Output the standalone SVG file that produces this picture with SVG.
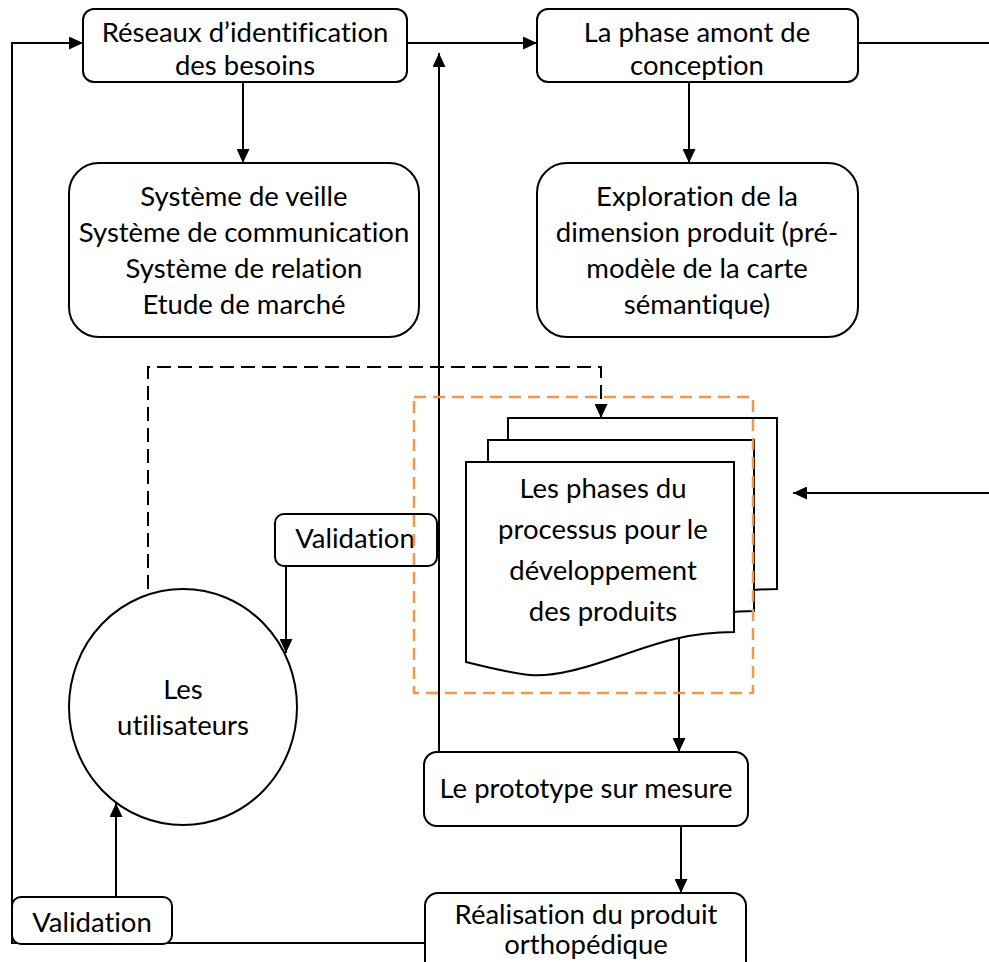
<svg xmlns="http://www.w3.org/2000/svg" width="989" height="962" viewBox="0 0 989 962">
<style>
.box{fill:#fff;stroke:#000;stroke-width:2}
.ln{fill:none;stroke:#000;stroke-width:2}
.dash{fill:none;stroke:#000;stroke-width:2;stroke-dasharray:14 7}
.orange{fill:none;stroke:#F79646;stroke-width:2.5;stroke-dasharray:12 7}
text{font-family:Lato,"Open Sans",sans-serif;font-size:27.5px;fill:#000;text-anchor:middle;font-variant-ligatures:none}
</style>
<defs>
<marker id="ah" viewBox="0 0 14 13" refX="14" refY="6.5" markerWidth="14" markerHeight="13" markerUnits="userSpaceOnUse" orient="auto">
<path d="M0,0 L14,6.5 L0,13 Z" fill="#000"/>
</marker>
</defs>
<rect width="989" height="962" fill="#fff"/>
<g id="connectors">
<path class="ln" d="M425,943 H12 V43 H83" marker-end="url(#ah)"/>
<path class="ln" d="M407,43 H537" marker-end="url(#ah)"/>
<path class="ln" d="M858,43 H989"/>
<path class="ln" d="M989,493 H793" marker-end="url(#ah)"/>
<path class="ln" d="M243,82 V163" marker-end="url(#ah)"/>
<path class="ln" d="M689,82 V163" marker-end="url(#ah)"/>
<path class="ln" d="M439,752 V53" marker-end="url(#ah)"/>
<path class="dash" d="M148,589 V367 H601 V418" marker-end="url(#ah)"/>
<path class="ln" d="M286,566 V653" marker-end="url(#ah)"/>
<path class="ln" d="M116,897 V803" marker-end="url(#ah)"/>
<path class="ln" d="M679,638 V752" marker-end="url(#ah)"/>
<path class="ln" d="M681,826 V893" marker-end="url(#ah)"/>
</g>
<g id="reseaux">
<rect class="box" x="83" y="9" width="324" height="73" rx="11"/>
<text x="245" y="42">Réseaux d’identification</text>
<text x="245" y="75">des besoins</text>
</g>
<g id="phase-amont">
<rect class="box" x="537" y="9" width="321" height="73" rx="11"/>
<text x="697" y="42">La phase amont de</text>
<text x="697" y="75">conception</text>
</g>
<g id="systemes">
<rect class="box" x="69" y="163" width="350" height="174" rx="30"/>
<text x="244" y="206">Système de veille</text>
<text x="244" y="242">Système de communication</text>
<text x="244" y="278">Système de relation</text>
<text x="244" y="314">Etude de marché</text>
</g>
<g id="exploration">
<rect class="box" x="537" y="163" width="321" height="174" rx="30"/>
<text x="697" y="206">Exploration de la</text>
<text x="697" y="242">dimension produit (pré-</text>
<text x="697" y="278">modèle de la carte</text>
<text x="697" y="314">sémantique)</text>
</g>
<g id="phases">
<path class="box" d="M508,418 H777 V589 C 733,589 703,599 663,613 C 628,625 598,634 573,632 C 553,630 533,625 508,618 Z"/>
<path class="box" d="M488,440 H754 V611 C 710,611 680,621 640,635 C 605,647 575,656 550,654 C 530,652 510,647 488,640 Z"/>
<path class="box" d="M466,462 H734 V632 C 690,632 660,642 620,656 C 585,668 555,677 530,675 C 510,673 490,668 466,662 Z"/>
<text x="603" y="498">Les phases du</text>
<text x="603" y="539">processus pour le</text>
<text x="603" y="580">développement</text>
<text x="603" y="621">des produits</text>
</g>
<g id="validation-haut">
<rect class="box" x="275" y="514" width="162" height="52" rx="9"/>
<text x="355" y="548">Validation</text>
</g>
<g id="zone">
<rect class="orange" x="414" y="397" width="339" height="296"/>
</g>
<g id="utilisateurs">
<ellipse class="box" cx="183" cy="707" rx="114" ry="118"/>
<text x="183" y="699">Les</text>
<text x="183" y="735">utilisateurs</text>
</g>
<g id="prototype">
<rect class="box" x="424" y="752" width="324" height="74" rx="13"/>
<text x="586" y="798">Le prototype sur mesure</text>
</g>
<g id="realisation">
<rect class="box" x="425" y="893" width="321" height="90" rx="13"/>
<text x="586" y="924">Réalisation du produit</text>
<text x="586" y="954">orthopédique</text>
</g>
<g id="validation-bas">
<rect class="box" x="12" y="897" width="160" height="47" rx="9"/>
<text x="92" y="932">Validation</text>
</g>
</svg>
